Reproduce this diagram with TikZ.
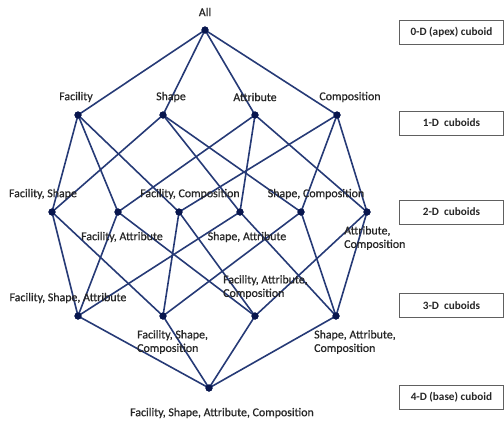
\documentclass[tikz,border=0pt]{standalone}
\usepackage{fontspec}
\setmainfont{Carlito}
\newfontfamily\lblfont{Carlito}[FakeBold=0.7]
\newfontfamily\boxfont{Carlito}[UprightFont={* Bold}]
\begin{document}
\begin{tikzpicture}[x=1pt,y=-1pt,
  dot/.style={circle,fill=dotc,inner sep=0pt,minimum size=7pt},
  edge/.style={draw=linec,line width=1.6pt},
  lbl/.style={font=\lblfont\fontsize{11.9}{13.5}\selectfont,text=black!85,inner sep=0pt},
  lvl/.style={draw=gray!75!black,line width=0.9pt,fill=white,minimum width=104pt,minimum height=24pt,anchor=west,font=\boxfont\fontsize{11.2}{13}\selectfont,text=black!85,inner sep=0pt}]
\definecolor{linec}{RGB}{38,58,118}
\definecolor{dotc}{RGB}{8,22,78}
\useasboundingbox (0,0) rectangle (504,421);
% nodes
\node[dot] (all) at (205,30) {};
\node[dot] (f) at (78,115) {};
\node[dot] (s) at (163,115) {};
\node[dot] (a) at (255,115) {};
\node[dot] (c) at (337,115) {};
\node[dot] (fs) at (52,212) {};
\node[dot] (fa) at (118,212) {};
\node[dot] (fc) at (179,212) {};
\node[dot] (sa) at (240,212) {};
\node[dot] (sc) at (301,212) {};
\node[dot] (ac) at (367,212) {};
\node[dot] (fsa) at (78,316) {};
\node[dot] (fsc) at (163,316) {};
\node[dot] (fac) at (255,316) {};
\node[dot] (sac) at (336,316) {};
\node[dot] (fsac) at (209,388) {};
% edges
\foreach \u/\v in {all/f,all/s,all/a,all/c,
  f/fs,f/fa,f/fc,s/fs,s/sa,s/sc,a/fa,a/sa,a/ac,c/fc,c/sc,c/ac,
  fsa/fs,fsa/fa,fsa/sa,fsc/fs,fsc/fc,fsc/sc,fac/fa,fac/fc,fac/ac,sac/sa,sac/sc,sac/ac,
  fsac/fsa,fsac/fsc,fsac/fac,fsac/sac}
  \draw[edge] (\u.center) -- (\v.center);
% redraw dots on top
\foreach \n in {all,f,s,a,c,fs,fa,fc,sa,sc,ac,fsa,fsc,fac,sac,fsac}
  \fill[dotc] (\n.center) circle (3.6pt);
% labels
\node[lbl] (lall) at (205,12) {All};
\node[lbl] (lf) at (76,97) {Facility};
\node[lbl] (ls) at (171,97) {Shape};
\node[lbl] (la) at (255,97) {Attribute};
\node[lbl] (lc) at (350,97) {Composition};
\node[lbl] (lfs) at (43,194) {Facility, Shape};
\node[lbl] (lfc) at (190,194) {Facility, Composition};
\node[lbl] (lsc) at (316,194) {Shape, Composition};
\node[lbl] (lfa) at (122,237) {Facility, Attribute};
\node[lbl] (lsa) at (247,237) {Shape, Attribute};
\node[lbl,anchor=west,align=left] (lac) at (344,238) {Attribute,\\Composition};
\node[lbl] (lfsa) at (68,298) {Facility, Shape, Attribute};
\node[lbl,anchor=west,align=left] (lfac) at (223,287) {Facility, Attribute,\\Composition};
\node[lbl,anchor=west,align=left] (lfsc) at (137,342) {Facility, Shape,\\Composition};
\node[lbl,anchor=west,align=left] (lsac) at (314,342) {Shape, Attribute,\\Composition};
\node[lbl] (lfsac) at (222,413) {Facility, Shape, Attribute, Composition};
% level boxes
\node[lvl] (b0) at (399,32) {0-D (apex) cuboid};
\node[lvl] (b1) at (399,123) {1-D\ \ cuboids};
\node[lvl] (b2) at (399,212) {2-D\ \ cuboids};
\node[lvl] (b3) at (399,305.5) {3-D\ \ cuboids};
\node[lvl] (b4) at (399,397) {4-D (base) cuboid};
\end{tikzpicture}
\end{document}
